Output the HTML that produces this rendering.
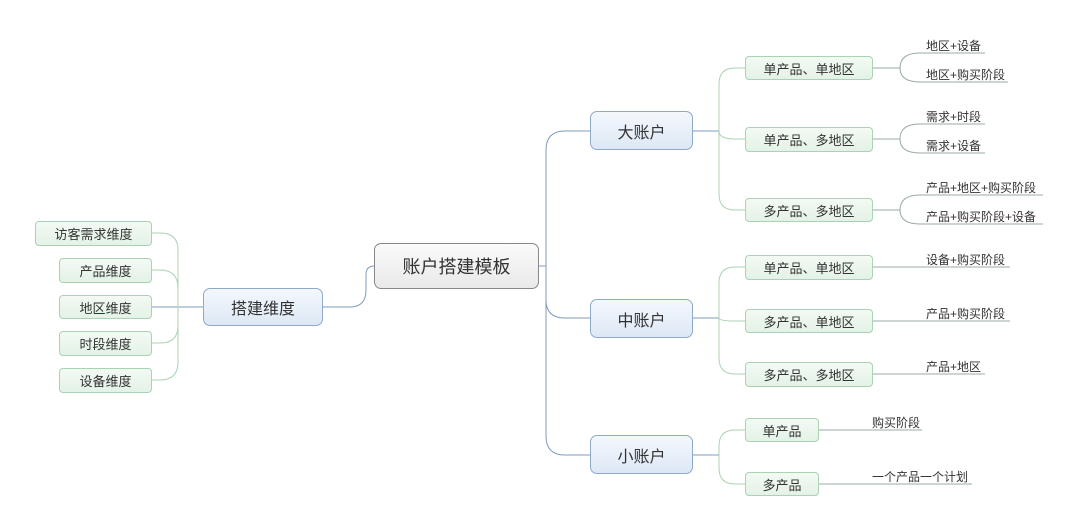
<!DOCTYPE html>
<html><head><meta charset="utf-8"><style>
body{margin:0;width:1080px;height:532px;background:#fff;position:relative;overflow:hidden;font-family:"Liberation Sans","Noto Sans CJK SC",sans-serif;}
.n{position:absolute;box-sizing:border-box;display:flex;align-items:center;justify-content:center;color:#333;}
.g{background:linear-gradient(#f3faf4,#e3f2e6);border:1px solid #a9d3b2;border-radius:4px;font-size:13px;}
.b{background:linear-gradient(#f4f8fd,#dde8f5);border:1px solid #8fa9c9;border-radius:7px;font-size:16px;}
.c{background:linear-gradient(#fafafa,#e9e9e9);border:1px solid #888;border-radius:7px;font-size:18px;}
.t{position:absolute;font-size:12px;color:#333;white-space:nowrap;}
svg{position:absolute;left:0;top:0}
</style></head><body>
<svg width="1080" height="532" fill="none">
<g stroke="#7f9bbd" stroke-width="1">
<path d="M323 307 H350 Q366 307 366 290 V275 Q366 266 374 266"/>
<path d="M539 266 H546"/>
<path d="M590 131 H565 Q546 131 546 150 V436 Q546 455 565 455 H590"/>
<path d="M546 300 Q546 318 565 318 H590"/>
<path d="M152 307 H203"/>
<path d="M693 131 H719 M693 318 H719 M693 455 H719"/>
</g>
<g stroke="#a9d3b2" stroke-width="1">
<path d="M152 233 H160 Q178 233 178 250 V362 Q178 380 160 380 H152"/>
<path d="M152 270 H160 Q178 270 178 288 M152 343 H160 Q178 343 178 326"/>
<path d="M745 68 H735 Q719 68 719 84 V194 Q719 210 735 210 H745 M719 131 Q719 139 735 139 H745"/>
<path d="M745 267 H735 Q719 267 719 283 V358 Q719 374 735 374 H745 M719 318 Q719 321 735 321 H745"/>
<path d="M745 430 H735 Q719 430 719 446 V468 Q719 484 735 484 H745"/>
</g>
<g stroke="#9aa" stroke-width="1">
<path d="M873 68 H900 M920 53 Q900 53 900 68 Q900 82 920 82 M920 53 H985 M920 82 H1008"/>
<path d="M873 139 H900 M920 124 Q900 124 900 139 Q900 153 920 153 M920 124 H985 M920 153 H985"/>
<path d="M873 210 H900 M920 195 Q900 195 900 210 Q900 224 920 224 M920 195 H1043 M920 224 H1043"/>
<path d="M873 267 H1010 M873 321 H1010 M873 374 H985"/>
<path d="M819 430 H922 M819 484 H972"/>
</g>
</svg>
<div class="n c" style="left:374px;top:243px;width:165px;height:46px">账户搭建模板</div>
<div class="n b" style="left:203px;top:288px;width:120px;height:38px">搭建维度</div>
<div class="n g" style="left:35px;top:221px;width:117px;height:25px">访客需求维度</div>
<div class="n g" style="left:59px;top:258px;width:93px;height:25px">产品维度</div>
<div class="n g" style="left:59px;top:295px;width:93px;height:24px">地区维度</div>
<div class="n g" style="left:59px;top:331px;width:93px;height:25px">时段维度</div>
<div class="n g" style="left:59px;top:368px;width:93px;height:25px">设备维度</div>
<div class="n b" style="left:590px;top:111px;width:103px;height:39px">大账户</div>
<div class="n b" style="left:590px;top:299px;width:103px;height:39px">中账户</div>
<div class="n b" style="left:590px;top:435px;width:103px;height:39px">小账户</div>
<div class="n g" style="left:745px;top:56px;width:128px;height:24px">单产品、单地区</div>
<div class="n g" style="left:745px;top:127px;width:128px;height:25px">单产品、多地区</div>
<div class="n g" style="left:745px;top:198px;width:128px;height:24px">多产品、多地区</div>
<div class="n g" style="left:745px;top:255px;width:128px;height:25px">单产品、单地区</div>
<div class="n g" style="left:745px;top:309px;width:128px;height:24px">多产品、单地区</div>
<div class="n g" style="left:745px;top:362px;width:128px;height:25px">多产品、多地区</div>
<div class="n g" style="left:745px;top:418px;width:74px;height:24px">单产品</div>
<div class="n g" style="left:745px;top:472px;width:74px;height:24px">多产品</div>
<div class="t" style="left:926px;top:37px">地区+设备</div>
<div class="t" style="left:926px;top:66px">地区+购买阶段</div>
<div class="t" style="left:926px;top:108px">需求+时段</div>
<div class="t" style="left:926px;top:137px">需求+设备</div>
<div class="t" style="left:926px;top:179px">产品+地区+购买阶段</div>
<div class="t" style="left:926px;top:208px">产品+购买阶段+设备</div>
<div class="t" style="left:926px;top:251px">设备+购买阶段</div>
<div class="t" style="left:926px;top:305px">产品+购买阶段</div>
<div class="t" style="left:926px;top:358px">产品+地区</div>
<div class="t" style="left:872px;top:414px">购买阶段</div>
<div class="t" style="left:872px;top:468px">一个产品一个计划</div>
</body></html>
